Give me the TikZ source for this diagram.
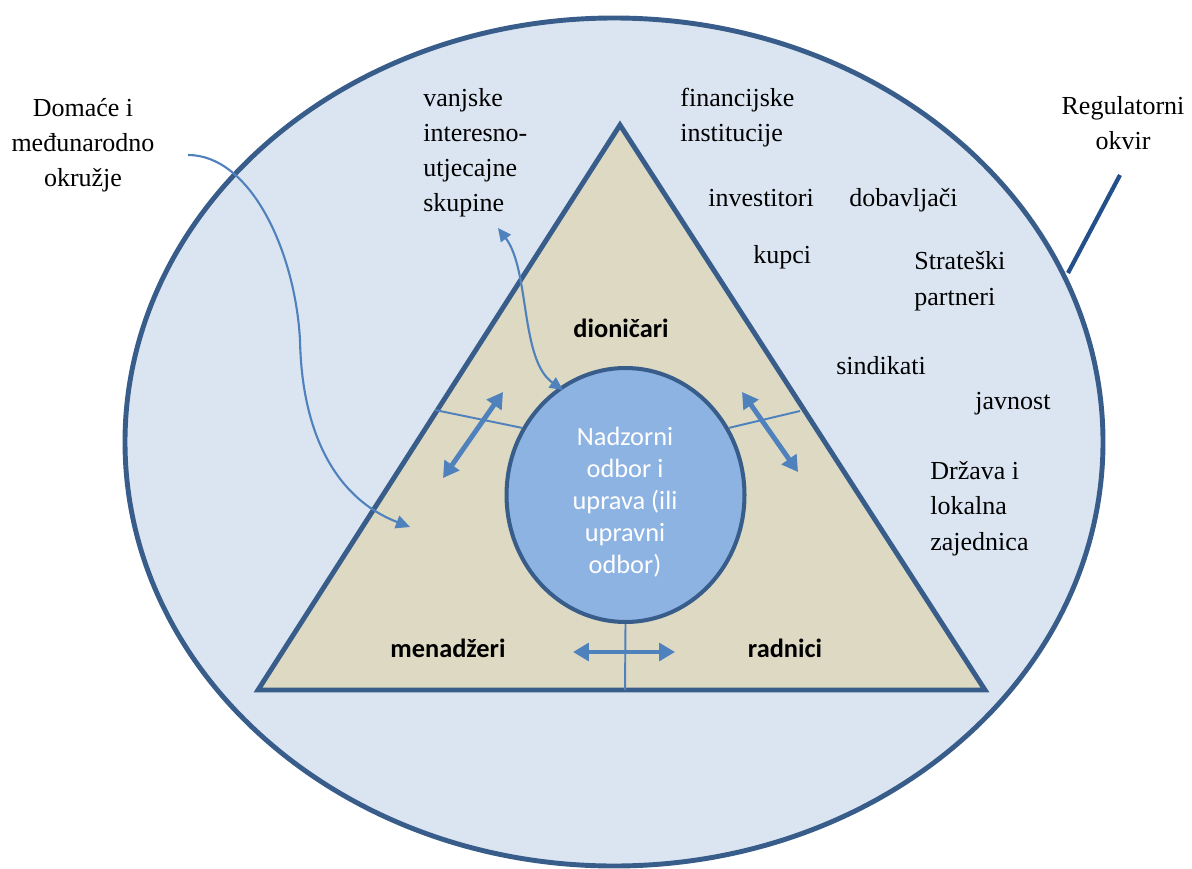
\documentclass[tikz,border=0pt]{standalone}
\usepackage{fontspec}
\setmainfont{Liberation Serif}
\newfontfamily\calfont{Carlito}
\usetikzlibrary{arrows.meta,shapes.geometric}

\definecolor{outline}{HTML}{385D8A}
\definecolor{envfill}{HTML}{DBE5F1}
\definecolor{trifill}{HTML}{DDD9C3}
\definecolor{boardfill}{HTML}{8DB3E2}
\definecolor{accent}{HTML}{4F81BD}
\definecolor{regline}{HTML}{23508A}

\begin{document}
\begin{tikzpicture}[x=0.02cm,y=-0.02cm,
  lbl/.style={font=\fontsize{14.8}{20.1}\selectfont, inner sep=0pt, anchor=base west, align=left},
  lblc/.style={font=\fontsize{14.8}{20.1}\selectfont, inner sep=0pt, anchor=base, align=center},
  boldlbl/.style={font=\calfont\bfseries\fontsize{15}{18}\selectfont, inner sep=0pt, anchor=base},
  boardtxt/.style={font=\calfont\fontsize{15}{18.2}\selectfont, text=white, inner sep=0pt, anchor=base, align=center},
  bigarrow/.style={accent, line width=2.8pt, {Triangle[width=10pt,length=9pt]}-{Triangle[width=10pt,length=9pt]}},
  thinarrow/.style={accent, line width=1.2pt},
  divider/.style={accent, line width=1.1pt}
]
\useasboundingbox (0,0) rectangle (1192,868);
\clip (0,0) rectangle (1192,868);

% environment ellipse
\filldraw[fill=envfill, draw=outline, line width=2.8pt] (614,442) ellipse [x radius=489, y radius=424];

% triangle
\coordinate (apex) at (620,125);
\coordinate (bl) at (258,690);
\coordinate (br) at (985,690);
\filldraw[fill=trifill, draw=outline, line width=2.8pt, line join=miter] (apex) -- (bl) -- (br) -- cycle;

% divider ends
\coordinate (dl) at (435,410);
\coordinate (dr) at (800,411);
\coordinate (db) at (625,690);

% board ellipse
\node[ellipse, fill=boardfill, draw=outline, line width=2.3pt, minimum width=4.76cm, minimum height=5.08cm, inner sep=0pt] (board) at (625.5,495) {};

\draw[divider] (dl) -- (board.{180-33});
\draw[divider] (dr) -- (board.{33});
\draw[divider] (board.south) -- (db);

% (multi-line nodes: base anchor = last line's baseline)
\node[boardtxt] (bt) at (625,573) {Nadzorni\\odbor i\\uprava (ili\\upravni\\odbor)};

% bold labels
\node[boldlbl] (dion) at (621,337) {dioničari};
\node[boldlbl] (men) at (448,657) {menadžeri};
\node[boldlbl] (rad) at (785,657) {radnici};

% thick double arrows
\coordinate (la1) at (443,478);
\coordinate (la2) at (503,392);
\coordinate (ra1) at (742,392);
\coordinate (ra2) at (798,472);
\coordinate (ba1) at (573,652);
\coordinate (ba2) at (675,652);
\draw[bigarrow] (la1) -- (la2);
\draw[bigarrow] (ra1) -- (ra2);
\draw[bigarrow] (ba1) -- (ba2);

% outer texts
\node[lblc] (dom) at (83,187) {Domaće i\\međunarodno\\okružje};
\node[lblc] (reg) at (1123,150) {Regulatorni\\okvir};
\node[lbl] (vanj) at (423,212) {vanjske\\interesno-\\utjecajne\\skupine};
\node[lbl] (fin) at (680,142) {financijske\\institucije};
\node[lbl] (inv) at (708,206) {investitori};
\node[lbl] (dob) at (849,206) {dobavljači};
\node[lbl] (kup) at (753,263) {kupci};
\node[lbl] (str) at (914,305) {Strateški\\partneri};
\node[lbl] (sin) at (836,374) {sindikati};
\node[lbl] (jav) at (975,409) {javnost};
\node[lbl] (drz) at (930,550) {Država i\\lokalna\\zajednica};

% curved arrows
\coordinate (domstart) at (188,155);
\coordinate (domend) at (410,527);
\draw[thinarrow, -{Triangle[width=7.5pt,length=8pt]}] (domstart) .. controls (250,155) and (295,250) .. (300,340) .. controls (302,440) and (340,500) .. (domend);

\coordinate (vstart) at (498,228);
\coordinate (vend) at (563,390);
\draw[thinarrow, {Triangle[width=7pt,length=7.5pt]}-{Triangle[width=7pt,length=7.5pt]}] (vstart) .. controls (530,270) and (520,360) .. (vend);

% regulatory pointer
\coordinate (reg1) at (1068,273);
\coordinate (reg2) at (1120,175);
\draw[regline, line width=2.4pt] (reg1) -- (reg2);
\end{tikzpicture}
\end{document}
